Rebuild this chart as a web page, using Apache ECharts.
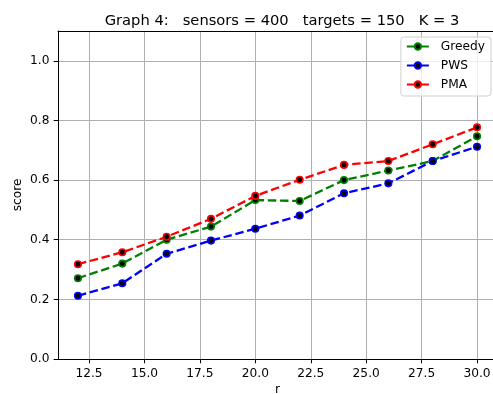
<!DOCTYPE html>
<html>
<head>
<meta charset="utf-8">
<script src="https://cdn.jsdelivr.net/npm/echarts@6/dist/echarts.min.js"></script>
<style>html,body{margin:0;padding:0;background:#fff}#c{width:493px;height:394px}</style>
</head>
<body>
<div id="c"></div>
<script>
const rValues = [12, 14, 16, 18, 20, 22, 24, 26, 28, 30];
const greedy = [0.271, 0.320, 0.400, 0.444, 0.533, 0.530, 0.600, 0.632, 0.664, 0.747];
const pws    = [0.212, 0.254, 0.353, 0.397, 0.437, 0.481, 0.556, 0.589, 0.664, 0.712];
const pma    = [0.318, 0.358, 0.410, 0.470, 0.547, 0.601, 0.651, 0.664, 0.720, 0.777];
const xTicks = [12.5, 15.0, 17.5, 20.0, 22.5, 25.0, 27.5, 30.0];
const yTicks = [0.0, 0.2, 0.4, 0.6, 0.8, 1.0];
const title = 'Graph 4:   sensors = 400   targets = 150   K = 3';

const FONT = 'DejaVu Sans';
const chart = echarts.init(document.getElementById('c'), null, {renderer: 'canvas'});
function mk(name, data, color) {
  return {
    name: name, type: 'line',
    data: rValues.map((r, i) => [r, data[i]]),
    symbol: 'circle', symbolSize: 6.5,
    itemStyle: {color: '#000', borderColor: color, borderWidth: 1.6},
    lineStyle: {color: color, width: 2.3, type: [8.5, 3.7]},
    emphasis: {disabled: true},
    animation: false
  };
}
chart.setOption({
  animation: false,
  title: {
    text: title, left: 277, textAlign: 'center', top: 9,
    textStyle: {fontFamily: FONT, fontSize: 14.7, fontWeight: 'normal', color: '#000'}
  },
  grid: {left: 58, right: -4, top: 31, bottom: 35, outerBoundsMode: 'none', containLabel: false, show: false},
  legend: {
    right: 2, top: 37, orient: 'vertical',
    padding: [3, 6, 5, 5], itemGap: 6, itemWidth: 22, itemHeight: 8,
    borderColor: '#d0d0d0', borderWidth: 1, borderRadius: 3,
    backgroundColor: 'rgba(255,255,255,0.8)',
    lineStyle: {type: 'solid'},
    textStyle: {fontFamily: FONT, fontSize: 12.2, lineHeight: 13, color: '#000', padding: [0, 0, 0, 7]},
    data: ['Greedy', 'PWS', 'PMA']
  },
  xAxis: [{
    type: 'value', min: 11.1, max: 30.9,
    name: 'r', nameLocation: 'middle', nameGap: 25, nameMoveOverlap: false,
    nameTextStyle: {fontFamily: FONT, fontSize: 12.2, color: '#000', verticalAlign: 'top'},
    axisLine: {show: true, onZero: false, lineStyle: {color: '#000', width: 1}},
    axisTick: {show: true, customValues: xTicks, length: 4.3, lineStyle: {color: '#000'}},
    axisLabel: {customValues: xTicks, formatter: v => v.toFixed(1), fontFamily: FONT, fontSize: 12.2, color: '#000', margin: 8.5},
    splitLine: {show: true, lineStyle: {color: '#b0b0b0', width: 1}}
  }, {
    type: 'value', min: 11.1, max: 30.9, position: 'top',
    axisLine: {show: true, onZero: false, lineStyle: {color: '#000', width: 1}},
    axisTick: {show: false}, axisLabel: {show: false}, splitLine: {show: false}
  }],
  yAxis: {
    type: 'value', min: 0, max: 1.1,
    name: 'score', nameLocation: 'middle', nameGap: 40, nameMoveOverlap: false,
    nameTextStyle: {fontFamily: FONT, fontSize: 12.2, color: '#000', verticalAlign: 'middle'},
    axisLine: {show: true, lineStyle: {color: '#000', width: 1}},
    axisTick: {show: true, customValues: yTicks, length: 4.3, lineStyle: {color: '#000'}},
    axisLabel: {customValues: yTicks, formatter: v => v.toFixed(1), fontFamily: FONT, fontSize: 12.2, color: '#000', margin: 8.5},
    splitLine: {show: true, lineStyle: {color: '#b0b0b0', width: 1}}
  },
  series: [mk('Greedy', greedy, '#008000'), mk('PWS', pws, '#0000ff'), mk('PMA', pma, '#ff0000')]
});
</script>
</body>
</html>
